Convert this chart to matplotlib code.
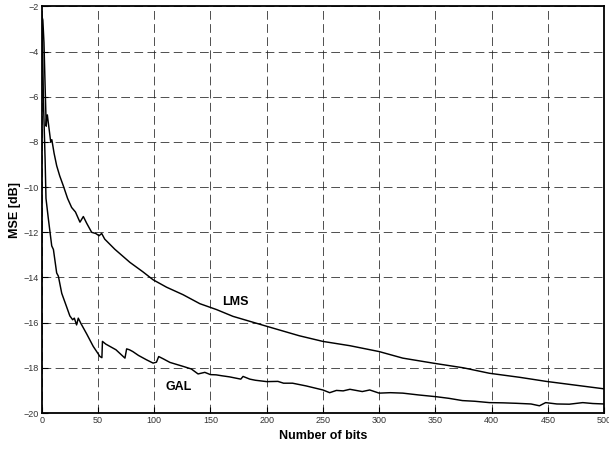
import matplotlib
matplotlib.use("Agg")
import matplotlib.pyplot as plt

plt.rcParams['font.family'] = ['Liberation Sans', 'DejaVu Sans']

# LMS learning curve
lms_bits = [0, 1, 2, 3, 4, 4.5, 5, 6, 7, 8, 9, 11, 13.3, 16, 19.2, 23, 26.6, 30, 34, 37, 40, 44.4, 48, 51, 53.3, 56,
            65, 78.4, 90, 99, 111, 125.6, 140.6, 155.4, 170, 185, 200, 229, 250, 274, 300, 321, 349, 375, 398,
            425, 448.5, 475, 500]
lms_mse = [-2.4, -2.6, -3.6, -5.5, -7.3, -6.9, -6.8, -7.2, -7.6, -8.0, -7.9, -8.5, -9.05, -9.5, -9.94, -10.5, -10.9, -11.1,
           -11.55, -11.3, -11.6, -12.0, -12.05, -12.15, -12.05, -12.3,
           -12.75, -13.33, -13.75, -14.1, -14.43, -14.76, -15.16, -15.42, -15.72, -15.94, -16.16, -16.58, -16.83,
           -17.02, -17.28, -17.57, -17.8, -18.0, -18.24, -18.42, -18.6, -18.77, -18.93]

# GAL learning curve
gal_bits = [0, 0.7, 1.5, 3, 3.8, 5.9, 8.9, 10.4, 13.3, 14.8, 17.8, 22, 25, 27.5, 29, 31, 32.5, 35, 40, 45.8, 51.8, 53.5,
            54, 57, 60.6, 66, 74, 75.5, 78, 81, 86, 93, 99, 102, 104, 108, 114, 120, 126, 133, 139, 145, 150,
            155, 160, 167, 172, 177, 179, 185, 190, 200, 210, 215, 223, 235, 250, 256, 262, 268, 274, 285,
            291.6, 300, 310, 321, 335, 351, 362, 374, 385, 398, 410, 422, 435, 442.5, 448, 458, 469, 481, 490, 500]
gal_mse = [-2.4, -3.5, -6.1, -8.76, -10.5, -11.4, -12.6, -12.76, -13.8, -13.94, -14.7, -15.28, -15.7, -15.87, -15.8,
           -16.1, -15.8, -16.05, -16.5, -17.05, -17.5, -17.55, -16.83, -16.95, -17.05, -17.2, -17.57, -17.16,
           -17.2, -17.28, -17.45, -17.64, -17.79, -17.75, -17.5, -17.6, -17.76, -17.85, -17.94, -18.05, -18.27,
           -18.2, -18.3, -18.31, -18.35, -18.4, -18.45, -18.5, -18.38, -18.5, -18.55, -18.61, -18.6, -18.68,
           -18.68, -18.8, -18.98, -19.1, -19.0, -19.02, -18.95, -19.05, -18.98, -19.12, -19.1, -19.12, -19.2,
           -19.28, -19.35, -19.45, -19.48, -19.54, -19.55, -19.57, -19.6, -19.68, -19.54, -19.6, -19.61, -19.54,
           -19.58, -19.6]

x_ticks = [0, 50, 100, 150, 200, 250, 300, 350, 400, 450, 500]
y_ticks = [-20, -18, -16, -14, -12, -10, -8, -6, -4, -2]

fig = plt.figure(figsize=(6.09, 4.5), dpi=100)
ax = fig.add_axes([0.0685, 0.0822, 0.9235, 0.9034])

ax.plot(lms_bits, lms_mse, color='black', lw=1.05)
ax.plot(gal_bits, gal_mse, color='black', lw=1.05)

ax.set_xlim(0, 500)
ax.set_ylim(-20, -2)
ax.set_xticks(x_ticks)
ax.set_yticks(y_ticks)
ax.tick_params(direction='in', length=4, labelsize=6.5, colors='black', labelcolor='#333333', pad=2)
ax.grid(True, color='#222222', linestyle=(0, (9, 4.5)), linewidth=0.7, alpha=0.8)
for s in ax.spines.values():
    s.set_linewidth(1.3)

ax.set_xlabel('Number of bits', fontsize=9, fontweight='bold', labelpad=4)
ax.set_ylabel('MSE [dB]', fontsize=9, fontweight='bold', labelpad=2)

ax.text(172, -15.07, 'LMS', fontsize=9, fontweight='bold', ha='center', va='center')
ax.text(122, -18.86, 'GAL', fontsize=9, fontweight='bold', ha='center', va='center')

fig.savefig('out.png', dpi=100)
